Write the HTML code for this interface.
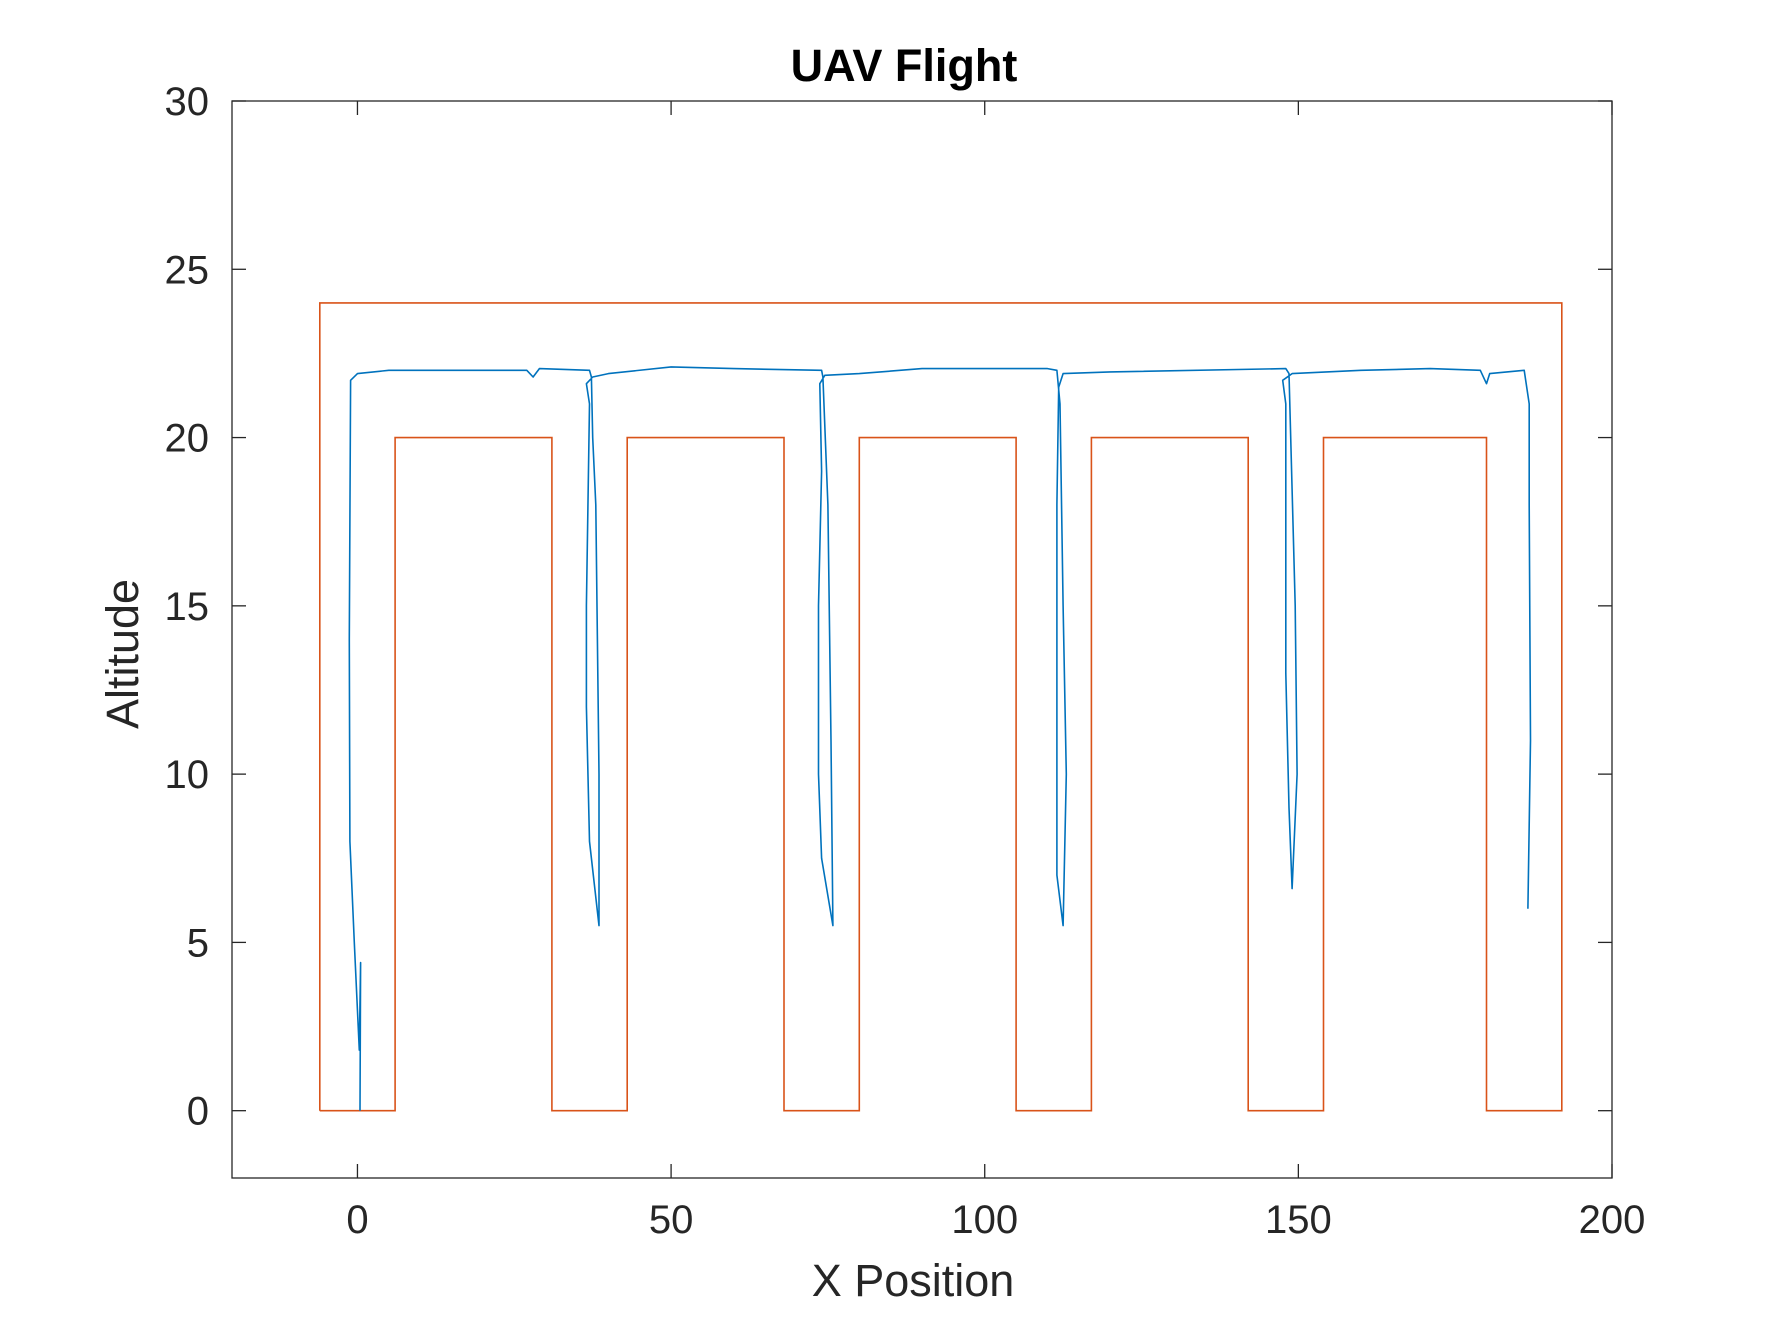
<!DOCTYPE html>
<html><head><meta charset="utf-8"><style>
html,body{margin:0;padding:0;background:#fff;}
svg text{font-family:"Liberation Sans",sans-serif;fill:#262626;}
</style></head><body>
<svg id="chart" width="1783" height="1321" xmlns="http://www.w3.org/2000/svg">
<rect width="1783" height="1321" fill="#fff"/>
<g id="plot"></g>
</svg>
<script>
const xTicks=[0,50,100,150,200];
const yTicks=[0,5,10,15,20,25,30];
const refX=[-6,-6,192,192,180,180,154,154,142,142,117,117,105,105,80,80,68,68,43,43,31,31,6,6,-6];
const refY=[0,24,24,0,0,20,20,0,0,20,20,0,0,20,20,0,0,20,20,0,0,20,20,0,0];
const flightX=[0.4,0.5,0.3,-0.5,-1.2,-1.3,-1.1,0,5,27,28,29,37,37.3,37.5,38,38.5,38.5,37,36.5,36.5,37,36.5,37.5,40,50,60,74,74.2,75,75.5,75.8,74,73.5,73.5,74,73.7,74.5,80,90,110,111.5,112,112.5,113,112.5,111.5,111.5,111.5,111.8,112.5,120,148,148.5,149.5,149.8,149,148.5,148,148,148,147.5,149,160,171,179,180,180.5,186,186.8,186.8,187,186.6];
const flightY=[0,4.4,1.8,5,8,14,21.7,21.9,22,22,21.8,22.05,22,21.8,20,18,10,5.5,8,12,15,21,21.6,21.8,21.9,22.1,22.05,22,21.8,18,11,5.5,7.5,10,15,19,21.6,21.85,21.9,22.05,22.05,22,21,15,10,5.5,7,10,18,21.5,21.9,21.95,22.05,21.9,15,10,6.6,9,13,18,21,21.7,21.9,22,22.05,22,21.6,21.9,22,21,18,11,6];
const L=232,R=1612,T=101,B=1178,xmin=-20,xmax=200,ymin=-2,ymax=30;
const sx=v=>L+(v-xmin)/(xmax-xmin)*(R-L);
const sy=v=>B-(v-ymin)/(ymax-ymin)*(B-T);
const NS='http://www.w3.org/2000/svg';
const g=document.getElementById('plot');
function mk(t,a){const e=document.createElementNS(NS,t);for(const k in a)e.setAttribute(k,a[k]);g.appendChild(e);return e;}
function pts(xs,ys){return xs.map((x,i)=>sx(x).toFixed(1)+','+sy(ys[i]).toFixed(1)).join(' ');}
let r=mk('polyline',{points:pts(refX,refY),fill:'none',stroke:'#D95319','stroke-width':1.6});


let f=mk('polyline',{points:pts(flightX,flightY),fill:'none',stroke:'#0072BD','stroke-width':1.6,'stroke-linejoin':'round'});


let box=mk('rect',{x:L,y:T,width:R-L,height:B-T,fill:'none',stroke:'#262626','stroke-width':1.3});


xTicks.forEach(v=>{
  const x=sx(v);
  mk('line',{x1:x,x2:x,y1:B,y2:B-14,stroke:'#262626','stroke-width':1.3});
  mk('line',{x1:x,x2:x,y1:T,y2:T+14,stroke:'#262626','stroke-width':1.3});
  const t=mk('text',{x:x,y:1233,'text-anchor':'middle','font-size':40});
  t.textContent=v;
  
  
});
yTicks.forEach(v=>{
  const y=sy(v);
  mk('line',{x1:L,x2:L+14,y1:y,y2:y,stroke:'#262626','stroke-width':1.3});
  mk('line',{x1:R,x2:R-14,y1:y,y2:y,stroke:'#262626','stroke-width':1.3});
  const t=mk('text',{x:209,y:y+14,'text-anchor':'end','font-size':40});
  t.textContent=v;
  
  
});
let tt=mk('text',{x:904,y:81,'text-anchor':'middle','font-size':45,'font-weight':'bold',style:'fill:#000'});
tt.textContent='UAV Flight';


let xl=mk('text',{x:913,y:1296,'text-anchor':'middle','font-size':45});
xl.textContent='X Position';


let yl=mk('text',{x:0,y:0,'text-anchor':'middle','font-size':45,transform:'translate(138,654) rotate(-90)'});
yl.textContent='Altitude';


</script>
</body></html>
